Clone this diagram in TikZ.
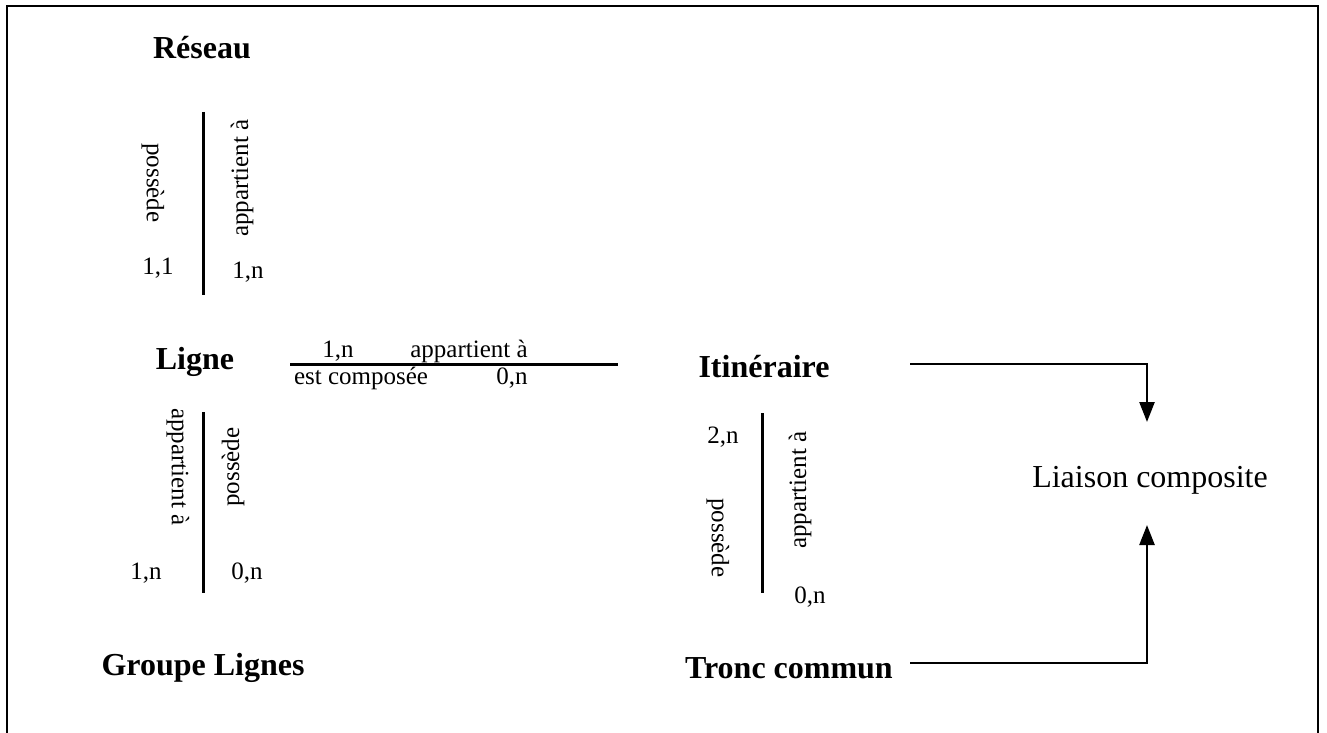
\documentclass[tikz,border=0pt]{standalone}
\usepackage{fontspec}
\setmainfont{Liberation Serif}
\usetikzlibrary{arrows.meta}
\begin{document}
\begin{tikzpicture}[x=1pt,y=-1pt,
  ent/.style={font=\fontsize{32}{38}\selectfont\bfseries, inner sep=0pt},
  plain/.style={font=\fontsize{32}{38}\selectfont, inner sep=0pt},
  lbl/.style={font=\fontsize{25}{30}\selectfont, inner sep=0pt},
  rel/.style={line width=3pt},
  arr/.style={line width=2.5pt,-{Triangle[length=20pt,width=15pt]}},
  frame/.style={line width=2pt}]
\useasboundingbox (0,0) rectangle (1327,733);
% frame
\coordinate (f1) at (7,735);
\coordinate (f2) at (7,6);
\coordinate (f3) at (1318,6);
\coordinate (f4) at (1318,735);
\draw[frame] (f1) -- (f2) -- (f3) -- (f4);

% entities
\node[ent] (reseau) at (202,48) {Réseau};
\node[ent] (ligne) at (195,362) {Ligne};
\node[ent] (groupe) at (203,668) {Groupe Lignes};
\node[ent] (itin) at (764,367) {Itinéraire};
\node[ent,anchor=east] (tronc) at (893,668) {Tronc commun};
\node[plain] (liaison) at (1150,480) {Liaison composite};

% Reseau - Ligne
\coordinate (rl1) at (203,112);
\coordinate (rl2) at (203,295);
\draw[rel] (rl1) -- (rl2);
\node[lbl,rotate=-90] (rlposs) at (153,183) {possède};
\node[lbl,rotate=90] (rlapp) at (242,178) {appartient à};
\node[lbl] (rlc1) at (158,268) {1,1};
\node[lbl] (rlc2) at (248,272) {1,n};

% Ligne - Itineraire
\coordinate (li1) at (290,364);
\coordinate (li2) at (618,364);
\draw[rel] (li1) -- (li2);
\node[lbl] (lic1) at (338,351) {1,n};
\node[lbl] (liapp) at (469,351) {appartient à};
\node[lbl] (licomp) at (361,378) {est composée};
\node[lbl] (lic2) at (512,378) {0,n};

% Ligne - Groupe Lignes
\coordinate (lg1) at (203,412);
\coordinate (lg2) at (203,593);
\draw[rel] (lg1) -- (lg2);
\node[lbl,rotate=-90] (lgapp) at (178,467) {appartient à};
\node[lbl,rotate=90] (lgposs) at (233,467) {possède};
\node[lbl] (lgc1) at (146,573) {1,n};
\node[lbl] (lgc2) at (247,573) {0,n};

% Itineraire - Tronc commun
\coordinate (it1) at (762,413);
\coordinate (it2) at (762,593);
\draw[rel] (it1) -- (it2);
\node[lbl,rotate=-90] (itposs) at (718,538) {possède};
\node[lbl,rotate=90] (itapp) at (800,490) {appartient à};
\node[lbl] (itc1) at (723,437) {2,n};
\node[lbl] (itc2) at (810,597) {0,n};

% arrows to Liaison composite
\coordinate (a1) at (910,364);
\coordinate (a1t) at (1147,422);
\coordinate (a2) at (910,663);
\coordinate (a2t) at (1147,525);
\draw[arr] (a1) -| (a1t);
\draw[arr] (a2) -| (a2t);
\end{tikzpicture}
\end{document}
